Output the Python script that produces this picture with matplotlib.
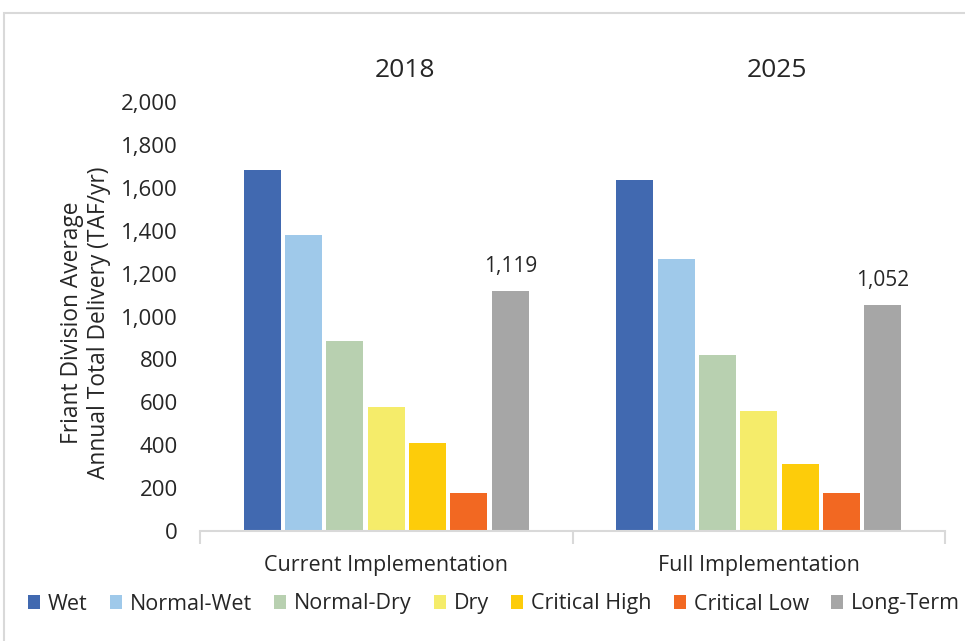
import numpy as np
import matplotlib.pyplot as plt
from matplotlib.patches import Rectangle

plt.rcParams['font.family'] = ['Open Sans', 'DejaVu Sans']

groups = ["Current Implementation", "Full Implementation"]
years = ["2018", "2025"]
series = ["Wet", "Normal-Wet", "Normal-Dry", "Dry", "Critical High", "Critical Low", "Long-Term"]
colors = ["#4169b0", "#9fc9ea", "#b8d0b0", "#f5ec6a", "#fdcc0a", "#f26822", "#a6a6a6"]

current = [1681, 1381, 884, 579, 412, 176, 1119]
full = [1636, 1270, 822, 561, 312, 176, 1052]

fig = plt.figure(figsize=(9.65, 6.41), dpi=100)
ax = fig.add_axes([200 / 965, 1 - 531 / 641, 745 / 965, 429 / 641])

# light grey chart frame, clipped at the right and bottom edges
fig.patches.append(Rectangle((4 / 965, -0.1), 1.2, 1 - 13 / 641 + 0.1,
                             transform=fig.transFigure, fill=False,
                             edgecolor="#d9d9d9", linewidth=1.5))

x = np.arange(len(groups))
pitch = 0.111
width = 0.0993
for i, name in enumerate(series):
    vals = [current[i], full[i]]
    offs = x + (i - 3) * pitch
    ax.bar(offs, vals, width, color=colors[i], label=name, zorder=2)
    if name == "Long-Term":
        for xo, v in zip(offs, vals):
            ax.text(xo, v + 65, f"{v:,}", ha="center", va="bottom", fontsize=15, color="#262626")

ax.set_ylim(0, 2000)
ax.set_xlim(-0.5, 1.5)
ax.set_yticks(range(0, 2001, 200))
ax.set_yticklabels([f"{v:,}" for v in range(0, 2001, 200)])
ax.tick_params(axis="y", length=0, pad=16, labelsize=16, labelcolor="#262626")

ax.set_xticks(x)
ax.set_xticklabels(groups)
ax.tick_params(axis="x", which="major", length=0, pad=17, labelsize=15.5, labelcolor="#262626")
ax.set_xticks([-0.5, 0.5, 1.5], minor=True)
ax.tick_params(axis="x", which="minor", length=9, width=1.5, color="#d9d9d9")

for s in ["top", "right", "left"]:
    ax.spines[s].set_visible(False)
ax.spines["bottom"].set_color("#d9d9d9")
ax.spines["bottom"].set_linewidth(1.5)

for xi, yr in zip(x, years):
    ax.text(xi + 0.05, 2145, yr, ha="center", va="center", fontsize=19, color="#262626")

ax.set_ylabel("Friant Division Average\nAnnual Total Delivery (TAF/yr)", fontsize=16.4,
              color="#262626", linespacing=1.15)
ax.yaxis.set_label_coords(-0.12, 0.485)

fig.legend(loc="center", bbox_to_anchor=(494 / 965, 1 - 604 / 641), ncol=7, frameon=False,
           fontsize=15.5, handlelength=0.56, handleheight=0.6, handletextpad=0.35,
           columnspacing=1.05, labelcolor="#262626")

fig.savefig("out.png", dpi=100)
